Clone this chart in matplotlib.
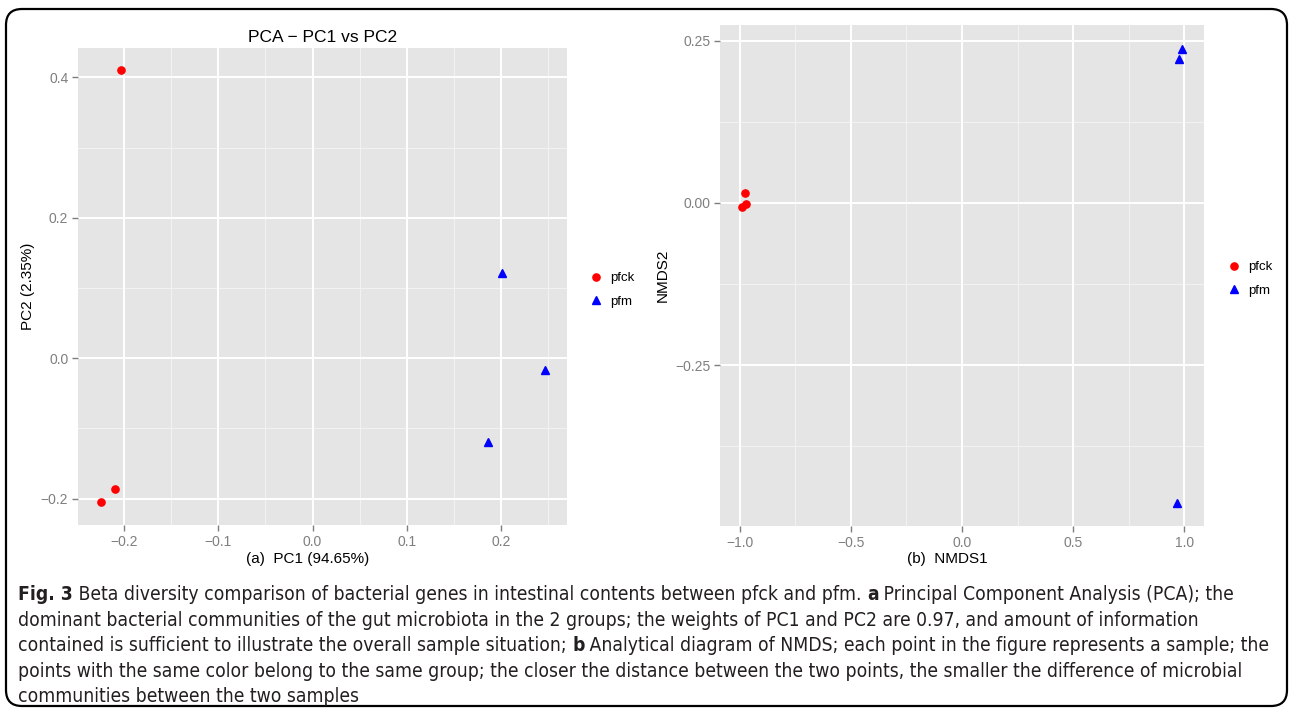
import matplotlib
matplotlib.use("Agg")
import matplotlib.pyplot as plt
from matplotlib import font_manager
from matplotlib.patches import FancyBboxPatch
from matplotlib.lines import Line2D

# ---------------- data ----------------
groups = ["pfck", "pfm"]
group_colors = ["#FF0000", "#0000FF"]
group_markers = ["o", "^"]

pca_pc1_pfck = [-0.203, -0.2092, -0.2244]
pca_pc2_pfck = [0.410, -0.186, -0.2047]
pca_pc1_pfm = [0.2005, 0.247, 0.186]
pca_pc2_pfm = [0.121, -0.016, -0.119]

nmds1_pfck = [-0.976, -0.972, -0.988]
nmds2_pfck = [0.0154, -0.002, -0.0066]
nmds1_pfm = [0.990, 0.9785, 0.966]
nmds2_pfm = [0.2377, 0.222, -0.463]

pca_xticks = [-0.2, -0.1, 0.0, 0.1, 0.2]
pca_xticklabels = ["\u22120.2", "\u22120.1", "0.0", "0.1", "0.2"]
pca_yticks = [-0.2, 0.0, 0.2, 0.4]
pca_yticklabels = ["\u22120.2", "0.0", "0.2", "0.4"]
nmds_xticks = [-1.0, -0.5, 0.0, 0.5, 1.0]
nmds_xticklabels = ["\u22121.0", "\u22120.5", "0.0", "0.5", "1.0"]
nmds_yticks = [-0.25, 0.0, 0.25]
nmds_yticklabels = ["\u22120.25", "0.00", "0.25"]

caption_lines = [
    [("Fig. 3", True), (" Beta diversity comparison of bacterial genes in intestinal contents between pfck and pfm. ", False),
     ("a", True), (" Principal Component Analysis (PCA); the", False)],
    [("dominant bacterial communities of the gut microbiota in the 2 groups; the weights of PC1 and PC2 are 0.97, and amount of information", False)],
    [("contained is sufficient to illustrate the overall sample situation; ", False), ("b", True),
     (" Analytical diagram of NMDS; each point in the figure represents a sample; the", False)],
    [("points with the same color belong to the same group; the closer the distance between the two points, the smaller the difference of microbial", False)],
    [("communities between the two samples", False)],
]

# ---------------- figure ----------------
W, H = 1292, 708
fig = plt.figure(figsize=(W / 100, H / 100), dpi=100)
fig.patch.set_facecolor("white")

names = {f.name for f in font_manager.fontManager.ttflist}
sans = "Liberation Sans" if "Liberation Sans" in names else "DejaVu Sans"
if "Liberation Sans Narrow" in names:
    cap_font = dict(family="Liberation Sans Narrow")
else:
    cap_font = dict(family="DejaVu Sans", stretch="condensed")

plt.rcParams["font.family"] = [sans, "DejaVu Sans"]


def px_axes(l, t, r, b):
    return fig.add_axes([l / W, 1 - b / H, (r - l) / W, (b - t) / H])


def style(ax, xt, xtl, yt, ytl, xlim, ylim, xminor, yminor):
    ax.set_facecolor("#E5E5E5")
    ax.set_xlim(*xlim)
    ax.set_ylim(*ylim)
    for v in xminor:
        ax.axvline(v, color="#F2F2F2", lw=0.8, zorder=0)
    for v in yminor:
        ax.axhline(v, color="#F2F2F2", lw=0.8, zorder=0)
    for v in xt:
        ax.axvline(v, color="white", lw=1.4, zorder=0.5)
    for v in yt:
        ax.axhline(v, color="white", lw=1.4, zorder=0.5)
    ax.set_xticks(xt)
    ax.set_xticklabels(xtl)
    ax.set_yticks(yt)
    ax.set_yticklabels(ytl)
    ax.tick_params(axis="both", colors="#7F7F7F", labelcolor="#7F7F7F", labelsize=10,
                   length=4, width=1, direction="out", pad=3)
    for s in ax.spines.values():
        s.set_visible(False)


# ---- left PCA panel ----
ax1 = px_axes(78, 48, 567, 525)
style(ax1, pca_xticks, pca_xticklabels, pca_yticks, pca_yticklabels,
      (-0.2490, 0.2700), (-0.2375, 0.4420),
      [-0.15, -0.05, 0.05, 0.15, 0.25], [-0.1, 0.1, 0.3])
ax1.plot(pca_pc1_pfck, pca_pc2_pfck, ls="none", marker=group_markers[0], color=group_colors[0], ms=5.2, zorder=3)
ax1.plot(pca_pc1_pfm, pca_pc2_pfm, ls="none", marker=group_markers[1], color=group_colors[1], ms=5.8, zorder=3)
ax1.set_title("PCA \u2212 PC1 vs PC2", fontsize=12.5, pad=4)
ax1.set_xlabel("(a)  PC1 (94.65%)", fontsize=11, labelpad=2, x=0.47)
ax1.set_ylabel("PC2 (2.35%)", fontsize=11, labelpad=4)

# ---- right NMDS panel ----
ax2 = px_axes(720, 25, 1204, 526)
style(ax2, nmds_xticks, nmds_xticklabels, nmds_yticks, nmds_yticklabels,
      (-1.0890, 1.0890), (-0.4980, 0.2740),
      [-0.75, -0.25, 0.25, 0.75], [-0.375, -0.125, 0.125])
ax2.plot(nmds1_pfck, nmds2_pfck, ls="none", marker=group_markers[0], color=group_colors[0], ms=5.2, zorder=3)
ax2.plot(nmds1_pfm, nmds2_pfm, ls="none", marker=group_markers[1], color=group_colors[1], ms=5.8, zorder=3)
ax2.set_xlabel("(b)  NMDS1", fontsize=11, labelpad=2, x=0.47)
ax2.set_ylabel("NMDS2", fontsize=11, labelpad=4)

# ---- legends ----
handles = [Line2D([], [], ls="none", marker=m, color=c, ms=5.2 if m == "o" else 5.8)
           for m, c in zip(group_markers, group_colors)]
for (lx, ly) in [(589, 290), (1227, 279)]:
    fig.legend(handles, groups, loc="center left", bbox_to_anchor=(lx / W, 1 - ly / H),
               frameon=False, fontsize=9.5, handlelength=1.0, handletextpad=0.6,
               labelspacing=0.85, borderaxespad=0, borderpad=0)

# ---- border ----
border = FancyBboxPatch((6, 2), 1281, 697, boxstyle="round,pad=0,rounding_size=16",
                        transform=None, fill=False, edgecolor="black", lw=1.6, clip_on=False)
fig.patches.append(border)

# ---- caption ----
renderer = fig.canvas.get_renderer()
base_size = 13.0
x0 = 18
y0 = 600
dy = 25.6


def line_width(parts, size):
    tot = 0
    for txt, b in parts:
        t = fig.text(0, 0, txt, fontsize=size, fontweight="bold" if b else "normal", **cap_font)
        tot += t.get_window_extent(renderer).width
        t.remove()
    return tot


targets = [1270, 1232, 1268, 1262]
scale = min((tg - x0) / line_width(caption_lines[i], base_size) for i, tg in enumerate(targets))
cap_size = base_size * scale

for i, parts in enumerate(caption_lines):
    x = x0
    y = y0 + i * dy
    for txt, b in parts:
        t = fig.text(x / W, 1 - y / H, txt, fontsize=cap_size, fontweight="bold" if b else "normal",
                     va="baseline", ha="left", color="#231F20", **cap_font)
        x += t.get_window_extent(renderer).width

fig.savefig("out.png", dpi=100)
